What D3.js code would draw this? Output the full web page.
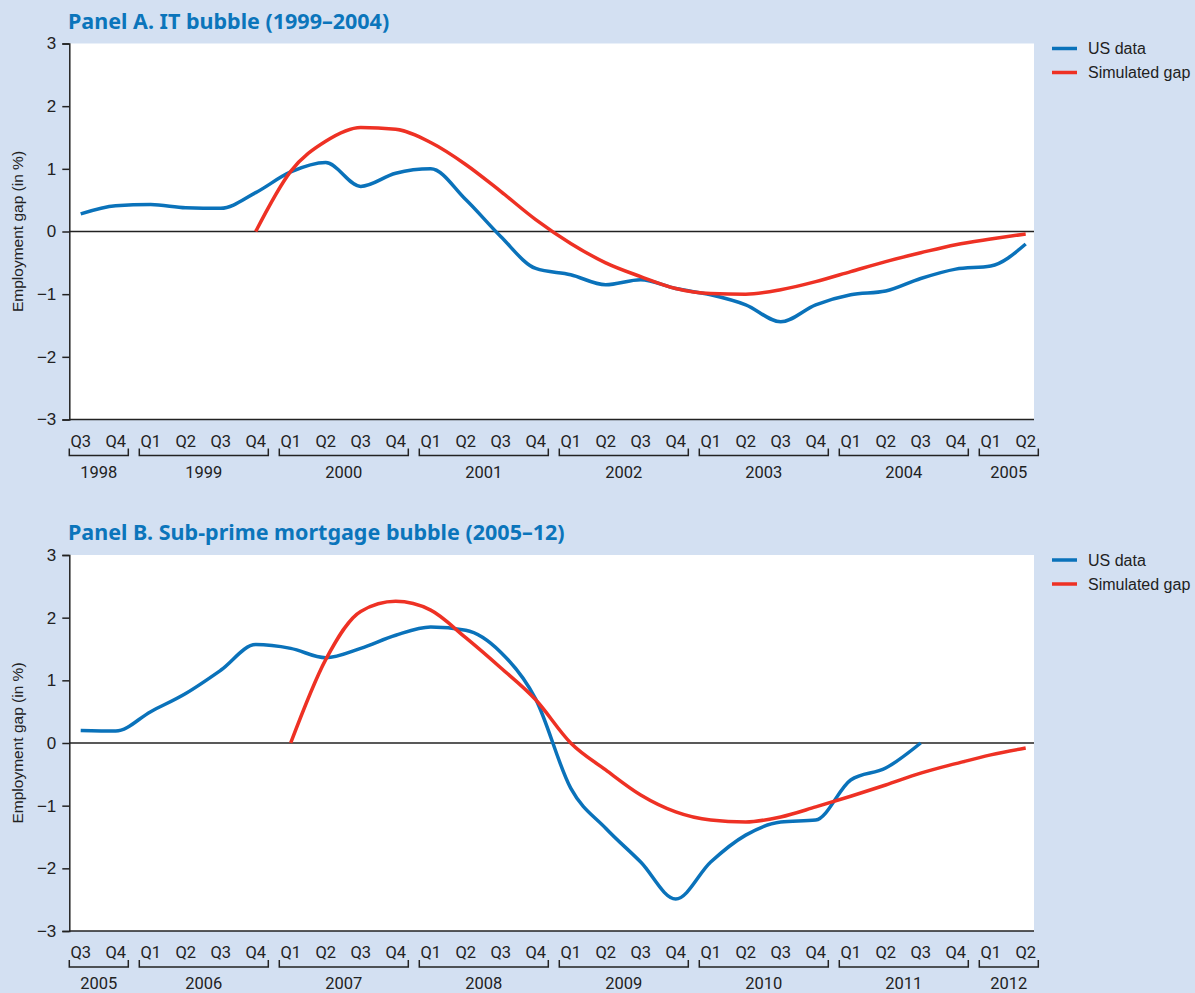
<!DOCTYPE html>
<html>
<head>
<meta charset="utf-8">
<script src="https://cdn.jsdelivr.net/npm/d3@7"></script>
<style>
  body { margin: 0; background: #d3e0f2; }
  svg { display: block; }
</style>
</head>
<body>
<svg id="chart" width="1195" height="993"></svg>
<script>
// quarters for each panel
const quartersA = ["1998Q3","1998Q4",
  "1999Q1","1999Q2","1999Q3","1999Q4",
  "2000Q1","2000Q2","2000Q3","2000Q4",
  "2001Q1","2001Q2","2001Q3","2001Q4",
  "2002Q1","2002Q2","2002Q3","2002Q4",
  "2003Q1","2003Q2","2003Q3","2003Q4",
  "2004Q1","2004Q2","2004Q3","2004Q4",
  "2005Q1","2005Q2"];
const quartersB = ["2005Q3","2005Q4",
  "2006Q1","2006Q2","2006Q3","2006Q4",
  "2007Q1","2007Q2","2007Q3","2007Q4",
  "2008Q1","2008Q2","2008Q3","2008Q4",
  "2009Q1","2009Q2","2009Q3","2009Q4",
  "2010Q1","2010Q2","2010Q3","2010Q4",
  "2011Q1","2011Q2","2011Q3","2011Q4",
  "2012Q1","2012Q2"];

// Panel A values (null = no data)
const usA = [0.28, 0.41, 0.43, 0.38, 0.37, 0.62, 0.95, 1.1, 0.72, 0.93,
  1.0, 0.51, -0.08, -0.59, -0.69, -0.85, -0.77, -0.91, -1.01, -1.17,
  -1.44, -1.17, -1.01, -0.95, -0.75, -0.6, -0.55, -0.2];
const simA = [null, null, null, null, null, 0, 0.96, 1.44, 1.66, 1.63,
  1.42, 1.07, 0.64, 0.19, -0.19, -0.5, -0.72, -0.91, -0.99, -1.0,
  -0.93, -0.8, -0.64, -0.48, -0.34, -0.21, -0.12, -0.04];

// Panel B values
const usB = [0.2, 0.19, 0.5, 0.79, 1.16, 1.57, 1.51, 1.36, 1.51, 1.72,
  1.85, 1.8, 1.45, 0.7, -0.72, -1.36, -1.9, -2.49, -1.9, -1.47,
  -1.26, -1.23, -0.59, -0.4, 0.0, null, null, null];
const simB = [null, null, null, null, null, null, 0, 1.33, 2.1, 2.26,
  2.12, 1.68, 1.2, 0.69, 0.0, -0.43, -0.83, -1.1, -1.23, -1.26,
  -1.18, -1.02, -0.85, -0.67, -0.48, -0.33, -0.19, -0.08];

const yTicks = [-3, -2, -1, 0, 1, 2, 3];
const seriesNames = ["US data", "Simulated gap"];
const colors = ["#0a72ba", "#ee3124"];

const svg = d3.select("#chart");
const fontNarrow = "Roboto, sans-serif";

function drawPanel(top, title, quarters, us, sim) {
  const plotLeft = 69.3, plotRight = 1034, plotTop = top, plotBottom = top + 376;

  const x = d3.scalePoint().domain(quarters).range([80.7, 80.7 + 27 * 35]);
  const y = d3.scaleLinear().domain([-3, 3]).range([plotBottom, plotTop]);

  const g = svg.append("g");

  // title
  g.append("text")
    .attr("x", 68).attr("y", top - 15)
    .attr("font-family", "'Noto Sans', sans-serif")
    .attr("font-weight", "bold")
    .attr("font-size", "21.5px")
    .attr("fill", "#0b75bb")
    .text(title);

  // plot area
  g.append("rect")
    .attr("x", plotLeft).attr("y", plotTop)
    .attr("width", plotRight - plotLeft).attr("height", plotBottom - plotTop)
    .attr("fill", "#fff");

  // zero line
  g.append("line")
    .attr("x1", plotLeft).attr("x2", plotRight)
    .attr("y1", y(0)).attr("y2", y(0))
    .attr("stroke", "#222").attr("stroke-width", 1.5);

  // bottom line
  g.append("line")
    .attr("x1", plotLeft).attr("x2", plotRight)
    .attr("y1", plotBottom).attr("y2", plotBottom)
    .attr("stroke", "#222").attr("stroke-width", 1.5);

  // y axis
  const yAxis = g.append("g")
    .attr("transform", `translate(${plotLeft},0)`)
    .call(d3.axisLeft(y).tickValues(yTicks).tickSize(7).tickPadding(6)
      .tickFormat(d => d < 0 ? "\u2212" + Math.abs(d) : d));
  yAxis.select(".domain").attr("stroke", "#222").attr("stroke-width", 1.5);
  yAxis.selectAll(".tick line").attr("stroke", "#222").attr("stroke-width", 1.5);
  yAxis.selectAll(".tick text")
    .attr("font-family", "'Liberation Sans', sans-serif")
    .attr("font-size", "17px")
    .attr("fill", "#222");

  // y axis label
  g.append("text")
    .attr("transform", `translate(23,${y(0)}) rotate(-90)`)
    .attr("text-anchor", "middle")
    .attr("font-family", "'Liberation Sans', sans-serif")
    .attr("font-size", "15.5px")
    .attr("fill", "#222")
    .text("Employment  gap (in %)");

  // quarter labels
  g.selectAll(".qlab").data(quarters).join("text")
    .attr("x", d => x(d))
    .attr("y", plotBottom + 27)
    .attr("text-anchor", "middle")
    .attr("font-family", fontNarrow)
    .attr("font-size", "16.5px")
    .attr("fill", "#222")
    .text(d => d.slice(4));

  // year groups
  const years = Array.from(d3.group(quarters, d => d.slice(0, 4)), ([k, v]) => ({ year: k, first: v[0], last: v[v.length - 1] }));
  const by = plotBottom + 36;
  years.forEach(yr => {
    const x0 = x(yr.first) - 11.4, x1 = x(yr.last) + 12.6;
    g.append("path")
      .attr("d", `M${x0},${by - 7}V${by}H${x1}V${by - 7}`)
      .attr("fill", "none").attr("stroke", "#222").attr("stroke-width", 1.5);
    g.append("text")
      .attr("x", (x0 + x1) / 2)
      .attr("y", by + 22)
      .attr("text-anchor", "middle")
      .attr("font-family", fontNarrow)
      .attr("font-size", "16.5px")
      .attr("fill", "#222")
      .text(yr.year);
  });

  // lines
  const line = d3.line()
    .x(d => x(d.q))
    .y(d => y(d.v))
    .curve(d3.curveMonotoneX);

  [us, sim].forEach((vals, i) => {
    const data = quarters.map((q, j) => ({ q, v: vals[j] })).filter(d => d.v !== null);
    g.append("path")
      .attr("d", line(data))
      .attr("fill", "none")
      .attr("stroke", colors[i])
      .attr("stroke-width", 3.5)
      .attr("stroke-linejoin", "round");
  });

  // legend
  seriesNames.forEach((name, i) => {
    const ly = top + 5 + i * 24;
    g.append("line")
      .attr("x1", 1052).attr("x2", 1077)
      .attr("y1", ly).attr("y2", ly)
      .attr("stroke", colors[i]).attr("stroke-width", 3.5);
    g.append("text")
      .attr("x", 1088).attr("y", ly + 5.5)
      .attr("font-family", "'Liberation Sans', sans-serif")
      .attr("font-size", "16px")
      .attr("fill", "#222")
      .text(name);
  });
}

drawPanel(43.5, "Panel A. IT bubble (1999\u20132004)", quartersA, usA, simA);
drawPanel(555, "Panel B. Sub-prime mortgage bubble (2005\u201312)", quartersB, usB, simB);
</script>
</body>
</html>
